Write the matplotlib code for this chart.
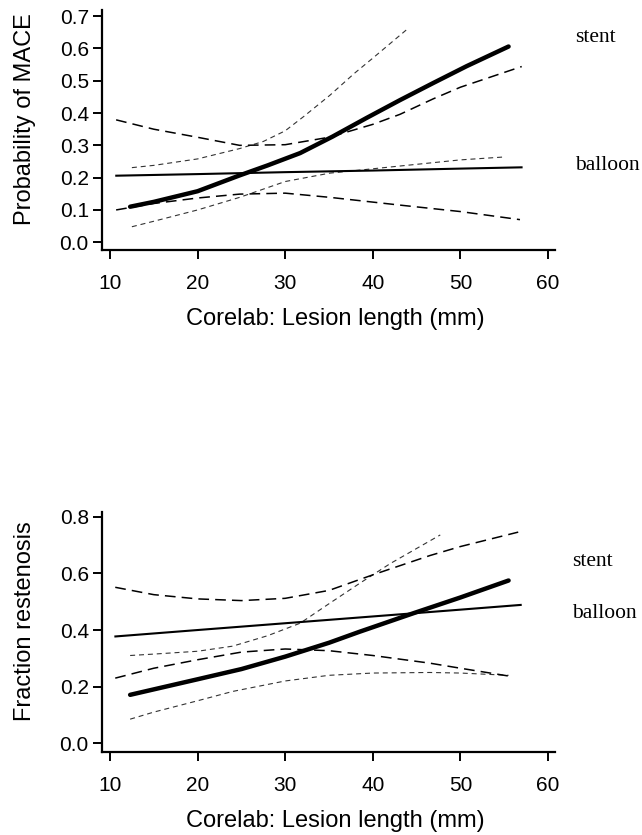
import matplotlib
matplotlib.use("Agg")
import matplotlib.pyplot as plt

plt.rcParams['font.family'] = ['Liberation Sans', 'DejaVu Sans']

# ---- top panel: probability of MACE ----
mace_stent_x = [12.3, 15, 20, 24.8, 28, 31.7, 35.4, 39.3, 43.1, 46.9, 50.7, 55.5]
mace_stent_y = [0.110, 0.125, 0.158, 0.207, 0.238, 0.276, 0.327, 0.385, 0.44, 0.493, 0.545, 0.606]
mace_stent_up_x = [12.5, 15, 20, 24.8, 27.5, 30, 32.1, 35.1, 37.9, 40, 43.9]
mace_stent_up_y = [0.231, 0.238, 0.258, 0.29, 0.312, 0.345, 0.389, 0.455, 0.523, 0.57, 0.659]
mace_stent_lo_x = [12.5, 15, 20, 24.8, 30, 35.1, 43.1, 50, 55]
mace_stent_lo_y = [0.048, 0.065, 0.10, 0.139, 0.188, 0.214, 0.236, 0.255, 0.264]

mace_ball_x = [10.6, 20, 30, 40, 50, 57.1]
mace_ball_y = [0.206, 0.211, 0.217, 0.222, 0.228, 0.232]
mace_ball_up_x = [10.7, 15, 20, 24.8, 30, 35, 40, 43.1, 46.9, 50, 57]
mace_ball_up_y = [0.379, 0.35, 0.325, 0.30, 0.302, 0.325, 0.365, 0.396, 0.444, 0.48, 0.544]
mace_ball_lo_x = [10.7, 15, 20, 24.8, 30, 35.1, 43.1, 50, 56.8]
mace_ball_lo_y = [0.10, 0.12, 0.137, 0.149, 0.152, 0.139, 0.115, 0.095, 0.070]

# ---- bottom panel: fraction restenosis ----
rest_stent_x = [12.3, 20, 25, 30, 35, 38.5, 44.6, 50, 55.5]
rest_stent_y = [0.171, 0.226, 0.262, 0.306, 0.355, 0.394, 0.459, 0.515, 0.575]
rest_stent_up_x = [12.3, 15, 20, 24, 28, 31.7, 35.1, 38.5, 42, 47.7]
rest_stent_up_y = [0.31, 0.315, 0.325, 0.343, 0.38, 0.424, 0.495, 0.565, 0.635, 0.736]
rest_stent_lo_x = [12.3, 15, 20, 24, 30, 35, 40, 46.5, 50, 55.5]
rest_stent_lo_y = [0.085, 0.11, 0.15, 0.183, 0.22, 0.24, 0.248, 0.25, 0.248, 0.24]

rest_ball_x = [10.5, 20, 30, 40, 50, 57]
rest_ball_y = [0.377, 0.40, 0.424, 0.448, 0.472, 0.489]
rest_ball_up_x = [10.6, 15, 20, 25, 30, 35, 40, 46.5, 50, 56.6]
rest_ball_up_y = [0.551, 0.525, 0.51, 0.504, 0.512, 0.54, 0.595, 0.663, 0.695, 0.746]
rest_ball_lo_x = [10.6, 15, 20, 25, 30, 35, 40, 46.5, 50, 56]
rest_ball_lo_y = [0.23, 0.265, 0.295, 0.322, 0.333, 0.327, 0.31, 0.283, 0.265, 0.235]

xticks = [10, 20, 30, 40, 50, 60]
mace_yticks = [0.0, 0.1, 0.2, 0.3, 0.4, 0.5, 0.6, 0.7]
rest_yticks = [0.0, 0.2, 0.4, 0.6, 0.8]

fig = plt.figure(figsize=(6.42, 8.35), dpi=100)
ax1 = fig.add_axes([0.1589, 0.7006, 0.7056, 0.2874])
ax2 = fig.add_axes([0.1589, 0.0994, 0.7056, 0.2874])

stent_ci = dict(color='#333333', lw=0.8, dashes=(4.5, 3.5))
ball_ci = dict(color='black', lw=1.1, dashes=(7, 4))


def draw(ax, sx, sy, sux, suy, slx, sly, bx, by, bux, buy, blx, bly):
    ax.plot(sux, suy, **stent_ci)
    ax.plot(slx, sly, **stent_ci)
    ax.plot(bux, buy, **ball_ci)
    ax.plot(blx, bly, **ball_ci)
    ax.plot(bx, by, color='black', lw=1.5, solid_capstyle='butt')
    ax.plot(sx, sy, color='black', lw=3.2, solid_capstyle='round',
            solid_joinstyle='round')


draw(ax1, mace_stent_x, mace_stent_y, mace_stent_up_x, mace_stent_up_y,
     mace_stent_lo_x, mace_stent_lo_y, mace_ball_x, mace_ball_y,
     mace_ball_up_x, mace_ball_up_y, mace_ball_lo_x, mace_ball_lo_y)
draw(ax2, rest_stent_x, rest_stent_y, rest_stent_up_x, rest_stent_up_y,
     rest_stent_lo_x, rest_stent_lo_y, rest_ball_x, rest_ball_y,
     rest_ball_up_x, rest_ball_up_y, rest_ball_lo_x, rest_ball_lo_y)

ax1.set_ylim(-0.024, 0.719)
ax1.set_yticks(mace_yticks)
ax1.set_yticklabels(['%.1f' % v for v in mace_yticks])
ax1.set_ylabel('Probability of MACE', fontsize=17)

ax2.set_ylim(-0.031, 0.817)
ax2.set_yticks(rest_yticks)
ax2.set_yticklabels(['%.1f' % v for v in rest_yticks])
ax2.set_ylabel('Fraction restenosis', fontsize=17)

for ax in (ax1, ax2):
    ax.set_xlim(9.09, 60.8)
    ax.set_xticks(xticks)
    ax.set_xlabel('Corelab: Lesion length (mm)', fontsize=17)
    ax.xaxis.set_label_coords(0.514, -0.243)
    ax.yaxis.set_label_coords(-0.146, 0.546)
    ax.spines['top'].set_visible(False)
    ax.spines['right'].set_visible(False)
    ax.spines['left'].set_linewidth(1.6)
    ax.spines['bottom'].set_linewidth(1.6)
    ax.tick_params(direction='out', length=6.5, width=1.4, labelsize=15)
    ax.tick_params(axis='x', pad=11)
    ax.tick_params(axis='y', pad=3)

ax1.text(63.1, 0.634, 'stent', fontsize=15.5, family='Liberation Serif',
         va='center', ha='left', clip_on=False)
ax1.text(63.1, 0.239, 'balloon', fontsize=15.5, family='Liberation Serif',
         va='center', ha='left', clip_on=False)
ax2.text(62.8, 0.642, 'stent', fontsize=15.5, family='Liberation Serif',
         va='center', ha='left', clip_on=False)
ax2.text(62.8, 0.459, 'balloon', fontsize=15.5, family='Liberation Serif',
         va='center', ha='left', clip_on=False)

fig.savefig('out.png', dpi=100)
